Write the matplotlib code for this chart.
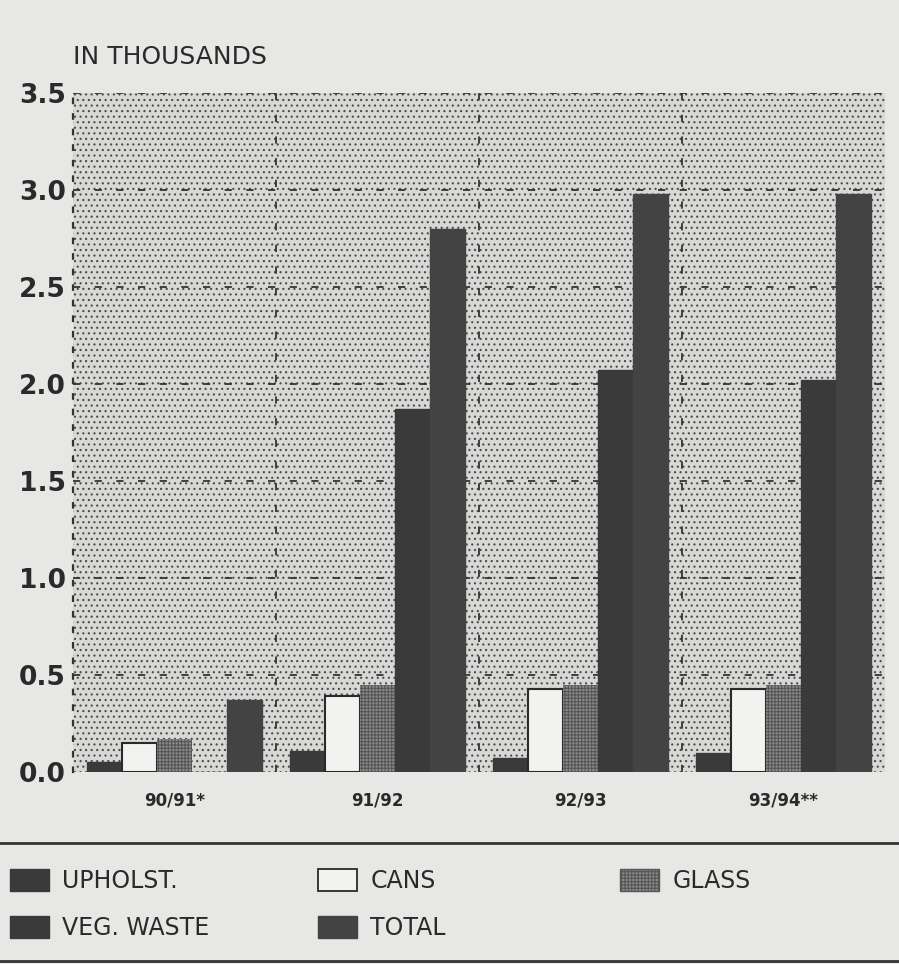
import matplotlib.pyplot as plt
from matplotlib.patches import Rectangle, Patch

seasons = ["90/91*", "91/92", "92/93", "93/94**"]
upholst = [0.05, 0.11, 0.07, 0.10]
cans = [0.15, 0.39, 0.43, 0.43]
glass = [0.17, 0.45, 0.45, 0.45]
veg_waste = [0.0, 1.87, 2.07, 2.02]
total = [0.37, 2.80, 2.98, 2.98]
y_ticks = [0.0, 0.5, 1.0, 1.5, 2.0, 2.5, 3.0, 3.5]

bg = "#e7e7e5"
dark = "#3a3a3a"
ink = "#2a2a2a"

plt.rcParams["hatch.linewidth"] = 0.8
fig = plt.figure(figsize=(8.99, 9.64), dpi=100, facecolor=bg)
ax = fig.add_axes([0.0812, 0.1992, 0.9032, 0.7043])
ax.set_facecolor("#d8d8d6")

# dotted screen of the plotting area
ax.add_patch(Rectangle((0, 0), 1, 1, transform=ax.transAxes, facecolor="none",
                       edgecolor="#4a4a4a", hatch="...", linewidth=0, zorder=0))

x = list(range(len(seasons)))
w = 0.172
series = [
    (upholst, dict(color=dark, edgecolor=dark), "UPHOLST."),
    (cans, dict(color="#f2f2f0", edgecolor=ink, linewidth=1.5), "CANS"),
    (glass, dict(color="#8a8a8a", edgecolor="#565656", hatch="+++++", linewidth=0), "GLASS"),
    (veg_waste, dict(color=dark, edgecolor=dark), "VEG. WASTE"),
    (total, dict(color="#434343", edgecolor="#434343"), "TOTAL"),
]
for i, (vals, style, label) in enumerate(series):
    pos = [xi + (i - 2) * w for xi in x]
    ax.bar(pos, vals, width=w, zorder=3, label=label, **style)

ax.set_xlim(-0.5, 3.5)
ax.set_ylim(0, 3.5)
for y in y_ticks[1:]:
    ax.axhline(y, color="#333333", lw=1.3, ls=(0, (4, 8)), zorder=2)
for xs in [0.5, 1.5, 2.5]:
    ax.axvline(xs, color="#333333", lw=1.3, ls=(0, (4, 8)), zorder=2)

for s in ["top", "right", "bottom"]:
    ax.spines[s].set_visible(False)
ax.spines["left"].set_linestyle((0, (2, 5)))
ax.spines["left"].set_linewidth(1.6)
ax.spines["left"].set_color("#333333")

ax.set_yticks(y_ticks)
ax.set_yticklabels([f"{v:.1f}" for v in y_ticks], fontsize=19, fontweight="bold", color=ink)
ax.set_xticks(x)
ax.set_xticklabels(seasons, fontsize=12, fontweight="bold", color=ink)
ax.tick_params(axis="both", length=0)
ax.tick_params(axis="y", pad=5)
ax.tick_params(axis="x", pad=14)

fig.text(0.0812, 0.928, "IN THOUSANDS", fontsize=18, color=ink, va="bottom")

# legend box
fig.patches.append(Rectangle((-0.01, 0.003), 1.02, 0.1225, transform=fig.transFigure,
                             facecolor="none", edgecolor="#333333", linewidth=2))

leg_kw = dict(loc="upper left", frameon=False, fontsize=17, handlelength=1.65,
              handleheight=1.1, handletextpad=0.55, labelspacing=0.97,
              borderaxespad=0, borderpad=0, labelcolor=ink)
columns = [
    (0.011, [Patch(facecolor=dark, edgecolor=dark), Patch(facecolor=dark, edgecolor=dark)],
     ["UPHOLST.", "VEG. WASTE"]),
    (0.354, [Patch(facecolor="#f2f2f0", edgecolor=ink, linewidth=1.3),
             Patch(facecolor="#434343", edgecolor="#434343")], ["CANS", "TOTAL"]),
    (0.690, [Patch(facecolor="#8a8a8a", edgecolor="#565656", hatch="+++++")], ["GLASS"]),
]
for xa, hs, labels in columns:
    fig.legend(hs, labels, bbox_to_anchor=(xa, 0.0990), **leg_kw)

fig.savefig("out.png", dpi=100, facecolor=bg)
